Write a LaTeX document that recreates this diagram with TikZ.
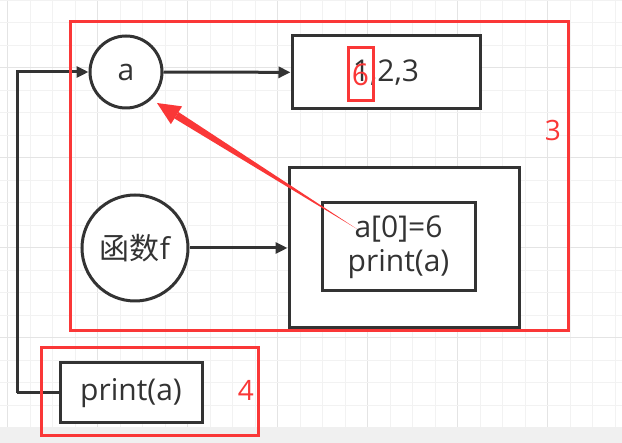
\documentclass[tikz,border=0pt]{standalone}
\usepackage{fontspec}
\setmainfont{Open Sans}
\newfontfamily\cjk{Noto Sans CJK SC}
\usetikzlibrary{arrows.meta,calc}
\definecolor{rd}{RGB}{250,55,55}
\definecolor{dk}{RGB}{51,51,51}
\definecolor{gminor}{RGB}{242,242,242}
\definecolor{gmajor}{RGB}{228,228,228}
\definecolor{strip}{RGB}{240,240,240}
\begin{document}
\begin{tikzpicture}[x=1pt,y=-1pt,
  blk/.style={draw=dk,line width=3pt,fill=white,text=dk,font=\fontsize{30}{34}\selectfont,inner sep=0pt,align=center},
  circ/.style={blk,circle},
  rbox/.style={draw=rd,line width=3pt},
  conn/.style={draw=dk,line width=3pt,-{Triangle[length=12pt,width=11pt]}},
  plain/.style={draw=dk,line width=3pt},
  lbl/.style={text=rd,font=\fontsize{28}{30}\selectfont,inner sep=0pt}
]
\fill[white] (0,0) rectangle (622,443);
\useasboundingbox (0,0) rectangle (622,443);
% grid
\foreach \k in {0,...,27}{
  \pgfmathsetmacro\xx{7.7+22.5*\k}
  \pgfmathtruncatemacro\m{mod(\k,4)}
  \ifnum\m=0 \draw[gmajor,line width=1.2pt] (\xx,0)--(\xx,427);
  \else \draw[gminor,line width=1.2pt] (\xx,0)--(\xx,427); \fi
}
\foreach \k in {0,...,18}{
  \pgfmathsetmacro\yy{0.2+22.5*\k}
  \pgfmathtruncatemacro\m{mod(\k,4)}
  \ifnum\m=3 \draw[gmajor,line width=1.2pt] (0,\yy)--(622,\yy);
  \else \draw[gminor,line width=1.2pt] (0,\yy)--(622,\yy); \fi
}
\fill[strip] (0,427) rectangle (622,443);

% nodes
\node[circ,minimum size=72pt] (a) at (126,72) {a};
\node[blk,minimum width=188pt,minimum height=73pt] (arr) at (386,72.5) {1,2,3};
\node[circ,minimum size=106pt] (f) at (135,248) {{\cjk 函数}f};
\node[blk,minimum width=230pt,minimum height=160pt] (outer) at (404,248) {};
\node[blk,minimum width=153pt,minimum height=88pt] (inner) at (398.5,247) {a[0]=6\\print(a)};
\node[blk,minimum width=142pt,minimum height=60pt] (p) at (131,393) {print(a)};

% connectors
\draw[conn] (a) -- (arr);
\draw[conn] (f) -- (outer);
\coordinate (lc) at (17,393);
\draw[plain] (p.west) -- (lc);
\draw[conn] (lc) |- (a.west);

% red annotations
\node[rbox,minimum width=25pt,minimum height=53pt,inner sep=0pt,text=rd,font=\fontsize{30}{34}\selectfont] (six) at (360.5,74.5) {6};
\node[rbox,minimum width=498pt,minimum height=309pt] (r3) at (319,176.5) {};
\node[rbox,minimum width=217pt,minimum height=88pt] (r4) at (149.5,392) {};
\node[lbl] (l3) at (553,131) {3};
\node[lbl] (l4) at (246,390) {4};

% tapered red arrow
\coordinate (rs) at (357,229);
\coordinate (rt) at (157,103);
\coordinate (hb) at ($(rt)!23pt!(rs)$);
\fill[rd] (rs) -- ($(hb)!3.8pt!90:(rs)$) -- ($(hb)!3.8pt!-90:(rs)$) -- cycle;
\fill[rd] (rt) -- ($(hb)!10.5pt!90:(rt)$) -- ($(hb)!10.5pt!-90:(rt)$) -- cycle;
\end{tikzpicture}
\end{document}
